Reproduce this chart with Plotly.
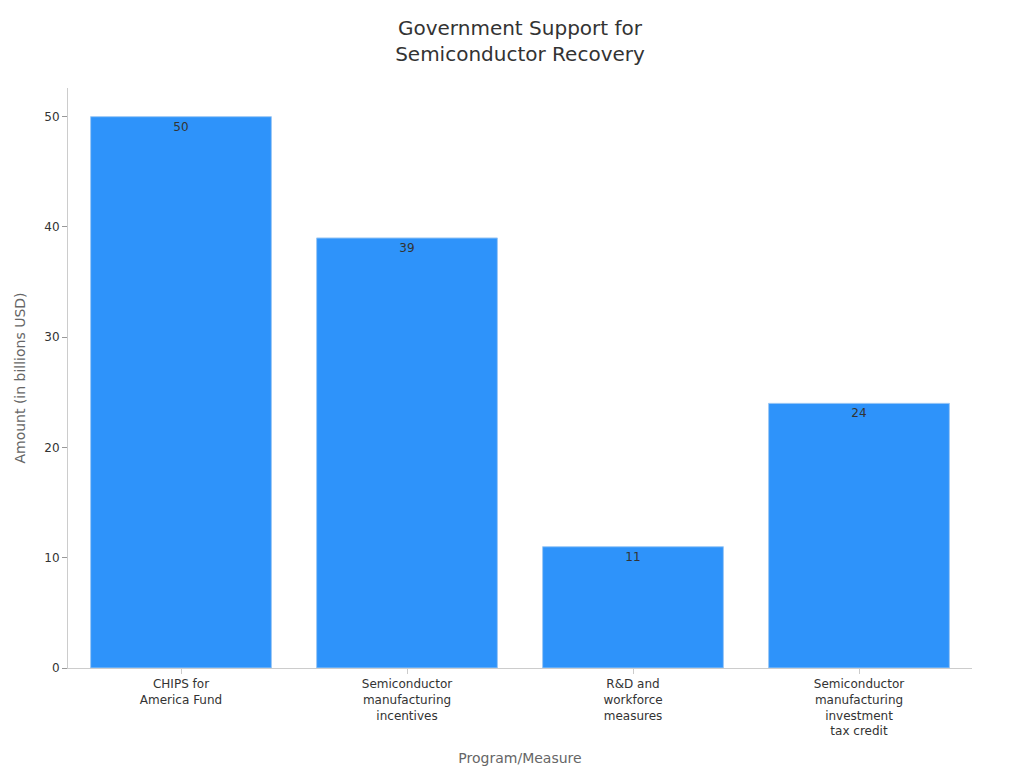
import plotly.graph_objects as go

programs = [
    "CHIPS for<br>America Fund",
    "Semiconductor<br>manufacturing<br>incentives",
    "R&D and<br>workforce<br>measures",
    "Semiconductor<br>manufacturing<br>investment<br>tax credit",
]
amounts = [50, 39, 11, 24]

fig = go.Figure(go.Bar(
    x=programs,
    y=amounts,
    text=[str(v) for v in amounts],
    textposition="inside",
    insidetextanchor="end",
    textfont=dict(color="#333333", size=12),
    marker=dict(color="#2E93FA", line=dict(color="#9cc8f5", width=1)),
    width=0.8,
))

fig.update_layout(
    width=1024, height=768,
    font=dict(family="DejaVu Sans", size=12, color="#333333"),
    title=dict(text="Government Support for<br>Semiconductor Recovery",
               x=0.5, xanchor="center", y=0.965, font=dict(size=20)),
    plot_bgcolor="white", paper_bgcolor="white",
    margin=dict(l=60, r=60, t=80, b=108),
    showlegend=False,
)
fig.update_xaxes(title=dict(text="Program/Measure", font=dict(color="#666666", size=14)),
                 showline=True, linecolor="#cccccc", ticks="outside", tickcolor="#cccccc",
                 tickfont=dict(size=12))
fig.update_yaxes(title=dict(text="Amount (in billions USD)", font=dict(color="#666666", size=14)),
                 range=[0, 52.6], showgrid=False, showline=True, linecolor="#cccccc",
                 ticks="outside", tickcolor="#999999", dtick=10, zeroline=False)

fig.write_html("out.html")
